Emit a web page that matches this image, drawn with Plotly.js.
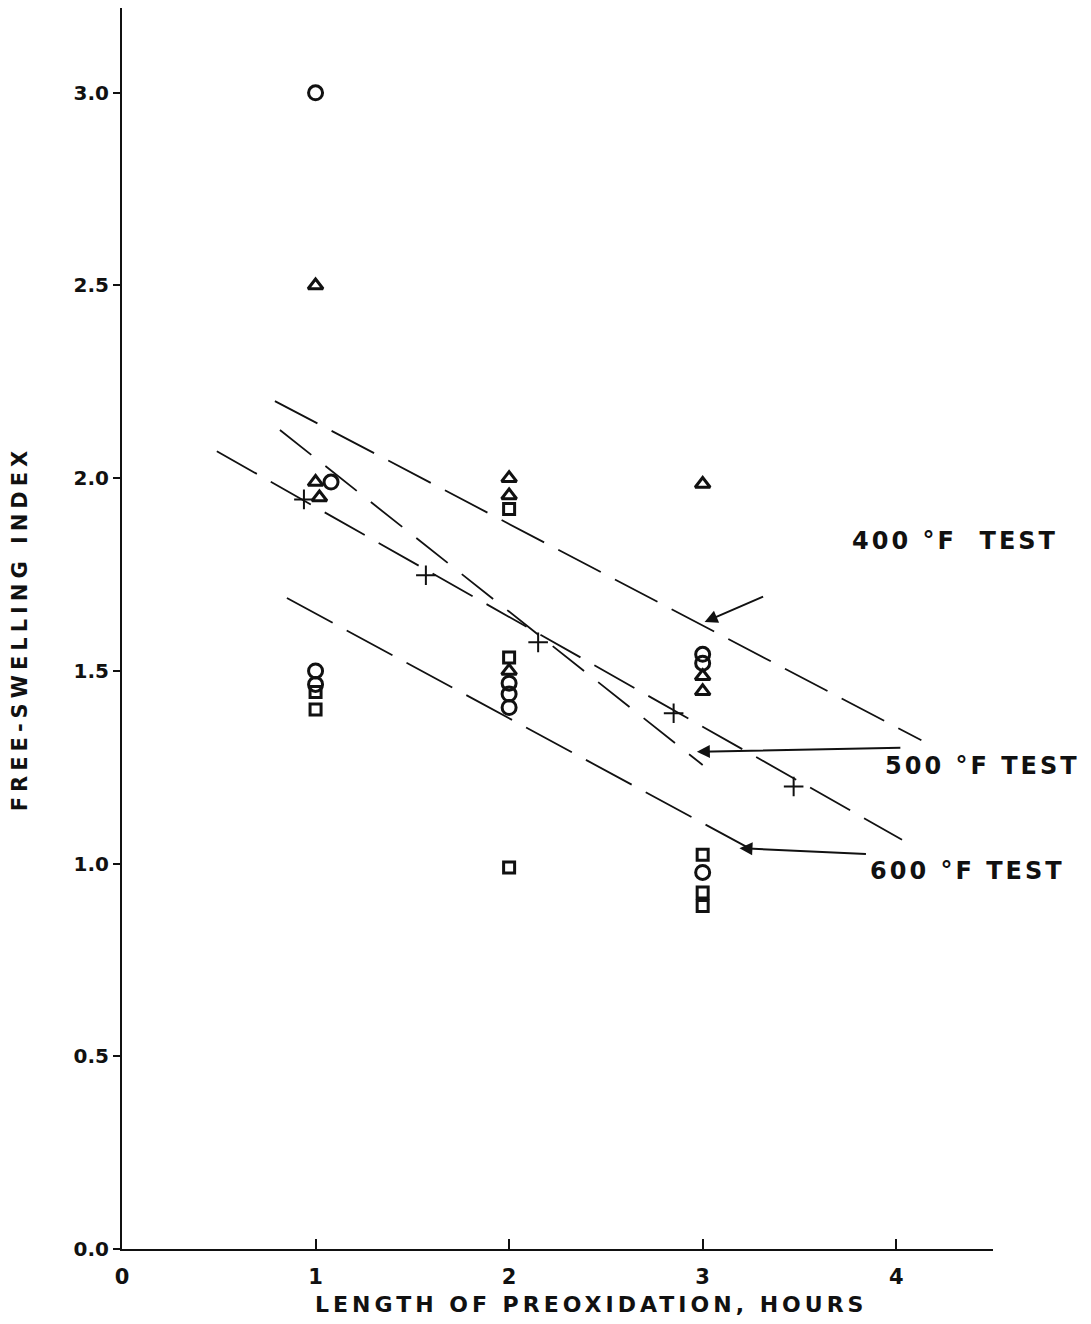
<!DOCTYPE html>
<html>
<head>
<meta charset="utf-8">
<script src="https://cdn.plot.ly/plotly-3.0.1.min.js"></script>
<style>
html,body{margin:0;padding:0;background:#fff;}
#chart{width:1091px;height:1324px;}
</style>
</head>
<body>
<div id="chart"></div>
<script>
// ---- data ----
const circleX = [1, 1.08, 1, 1, 2, 2, 2, 3, 3, 3];
const circleY = [3.0, 1.99, 1.50, 1.465, 1.468, 1.44, 1.405, 1.543, 1.52, 0.977];

const triangleX = [1, 1, 1.02, 2, 2, 2, 3, 3, 3];
const triangleY = [2.5, 1.99, 1.95, 2.0, 1.955, 1.50, 1.985, 1.486, 1.447];

const squareX = [1, 1, 2, 2, 2, 3, 3, 3];
const squareY = [1.445, 1.40, 1.92, 1.535, 0.99, 1.023, 0.925, 0.89];

const crossX = [0.94, 1.57, 2.15, 2.85, 3.47];
const crossY = [1.945, 1.748, 1.574, 1.39, 1.20];

// fitted test lines (end points)
const line400X = [0.79, 4.13];
const line400Y = [2.20, 1.32];
const line500X = [0.816, 3.0];
const line500Y = [2.125, 1.256];
const lineCrossX = [0.49, 4.03];
const lineCrossY = [2.07, 1.062];
const line600X = [0.852, 3.306];
const line600Y = [1.689, 1.022];

const labels = ["400 °F  TEST", "500 °F TEST", "600 °F TEST"];
const labelX = [3.76, 3.93, 3.853];
const labelY = [1.837, 1.253, 0.981];
const arrowX = [3.01, 2.97, 3.19];
const arrowY = [1.627, 1.29, 1.04];
const arrowAX = [60, 205, 128];
const arrowAY = [-26, -4, 6];

const xTicks = [0, 1, 2, 3, 4];
const yTicks = [0, 0.5, 1.0, 1.5, 2.0, 2.5, 3.0];
const yTickText = ["0.0", "0.5", "1.0", "1.5", "2.0", "2.5", "3.0"];

const xTitle = "LENGTH OF PREOXIDATION, HOURS";
const yTitle = "FREE-SWELLING INDEX";

// ---- chart ----
const FONT = "DejaVu Sans, Liberation Sans, sans-serif";
const ink = "#111";

// widen lettering like the stencilled original
function spaced(s, px) {
  return '<span style="letter-spacing:' + px + 'px">' + s.replace(/ /g, "\u00a0") + '</span>';
}

function lineTrace(x, y, dash) {
  return {x: x, y: y, mode: "lines", type: "scatter", hoverinfo: "skip",
          line: {color: ink, width: 1.8, dash: dash}, showlegend: false};
}

const traces = [
  lineTrace(line400X, line400Y, "48px,16px"),
  lineTrace(line500X, line500Y, "40px,18px"),
  lineTrace(lineCrossX, lineCrossY, "46px,16px"),
  lineTrace(line600X, line600Y, "52px,16px"),
  {x: circleX, y: circleY, mode: "markers", type: "scatter", showlegend: false,
   marker: {symbol: "circle-open", size: 14, color: ink, line: {width: 3, color: ink}}},
  {x: triangleX, y: triangleY, mode: "markers", type: "scatter", showlegend: false,
   marker: {symbol: "triangle-up-open", size: 13, color: ink, line: {width: 3, color: ink}}},
  {x: squareX, y: squareY, mode: "markers", type: "scatter", showlegend: false,
   marker: {symbol: "square-open", size: 11, color: ink, line: {width: 3, color: ink}}},
  {x: crossX, y: crossY, mode: "markers", type: "scatter", showlegend: false,
   marker: {symbol: "cross-thin-open", size: 14, color: ink, line: {width: 2, color: ink}}}
];

const annotations = [];
for (let i = 0; i < labels.length; i++) {
  annotations.push({x: labelX[i], y: labelY[i], xref: "x", yref: "y", text: spaced(labels[i], 3),
    showarrow: false, xanchor: "left", yanchor: "middle",
    font: {family: FONT, size: 24, color: ink, weight: "bold"}});
  annotations.push({x: arrowX[i], y: arrowY[i], xref: "x", yref: "y", text: "",
    showarrow: true, arrowhead: 2, arrowsize: 1.3, arrowwidth: 2, arrowcolor: ink,
    ax: arrowAX[i], ay: arrowAY[i]});
}
// x-axis title, placed right of centre as in the original
annotations.push({x: 0.538, y: -0.045, xref: "paper", yref: "paper", text: spaced(xTitle, 4),
  showarrow: false, xanchor: "center", yanchor: "middle",
  font: {family: FONT, size: 22, color: ink, weight: "bold"}});

const layout = {
  width: 1091, height: 1324,
  paper_bgcolor: "#fff", plot_bgcolor: "#fff",
  margin: {l: 122, r: 98, t: 8, b: 75},
  showlegend: false,
  font: {family: FONT, color: ink},
  xaxis: {
    range: [0, 4.5], tickvals: xTicks, ticktext: xTicks.map(String),
    showgrid: false, zeroline: false, showline: true, linecolor: ink, linewidth: 2,
    ticks: "inside", ticklen: 10, tickwidth: 2, tickcolor: ink,
    tickfont: {family: FONT, size: 21, color: ink, weight: "bold"},
    ticklabelstandoff: 8
  },
  yaxis: {
    range: [0, 3.22], tickvals: yTicks, ticktext: yTickText,
    showgrid: false, zeroline: false, showline: true, linecolor: ink, linewidth: 2,
    ticks: "outside", ticklen: 7, tickwidth: 2, tickcolor: ink,
    tickfont: {family: FONT, size: 20, color: ink, weight: "bold"},
    ticklabelstandoff: 0,
    title: {text: spaced(yTitle, 5),
            font: {family: FONT, size: 21, color: ink, weight: "bold"}, standoff: 40}
  },
  annotations: annotations
};

Plotly.newPlot("chart", traces, layout, {staticPlot: true, displayModeBar: false});
</script>
</body>
</html>
